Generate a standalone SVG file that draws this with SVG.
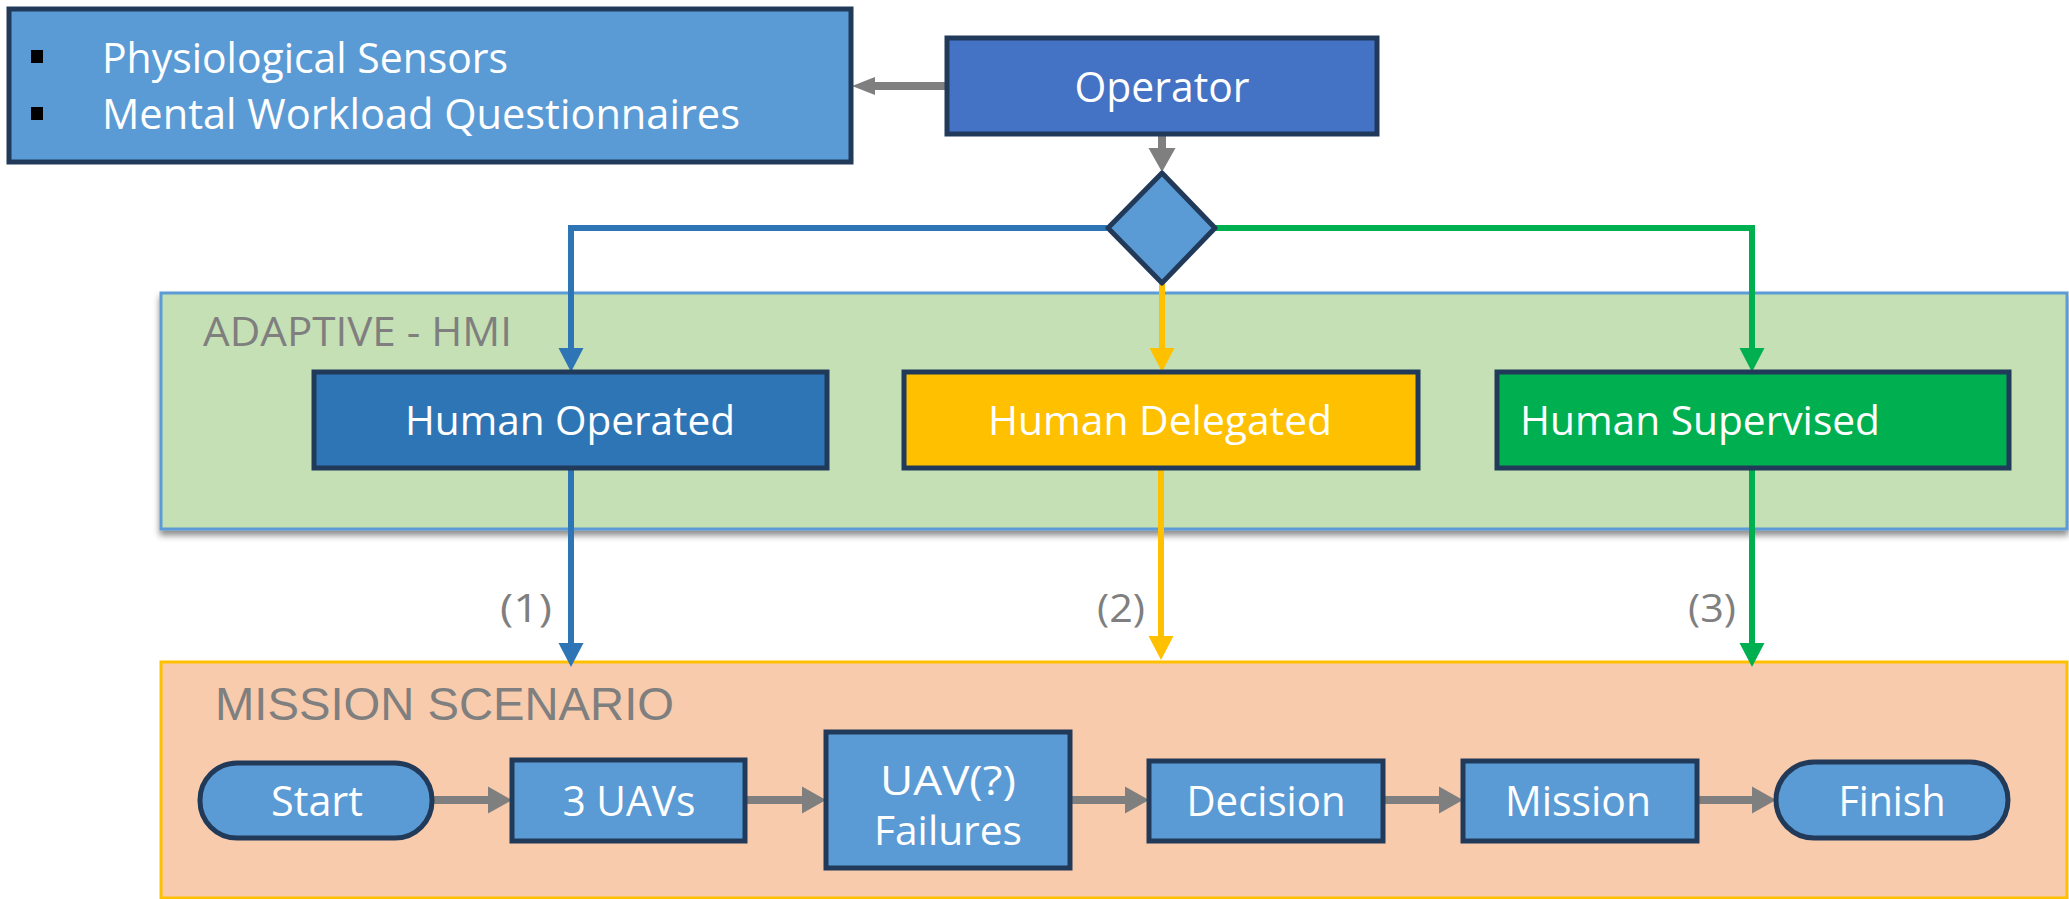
<svg xmlns="http://www.w3.org/2000/svg" width="2069" height="899" viewBox="0 0 2069 899">
<style>
.node{stroke:#213A5A;stroke-width:5}
.lt{font-family:"Open Sans","Noto Sans",sans-serif;fill:#ffffff}
.gl{font-family:"Open Sans","Noto Sans",sans-serif;fill:#7F7F7F}
.c{text-anchor:middle}
.conn{fill:none}
</style>
<defs>
<filter id="sh" x="-5%" y="-5%" width="110%" height="120%">
<feDropShadow dx="0" dy="5" stdDeviation="3" flood-color="#000" flood-opacity="0.45"/>
</filter>
<marker id="ag" markerUnits="userSpaceOnUse" markerWidth="24" markerHeight="27" refX="0" refY="13.5" orient="auto" overflow="visible"><path d="M0,0 L24,13.5 L0,27 z" fill="#7F7F7F"/></marker>
<marker id="ags" markerUnits="userSpaceOnUse" markerWidth="23" markerHeight="18" refX="0" refY="9" orient="auto" overflow="visible"><path d="M0,0 L23,9 L0,18 z" fill="#7F7F7F"/></marker>
<marker id="ab" markerUnits="userSpaceOnUse" markerWidth="24" markerHeight="25" refX="0" refY="12.5" orient="auto" overflow="visible"><path d="M0,0 L24,12.5 L0,25 z" fill="#2E75B6"/></marker>
<marker id="ay" markerUnits="userSpaceOnUse" markerWidth="24" markerHeight="25" refX="0" refY="12.5" orient="auto" overflow="visible"><path d="M0,0 L24,12.5 L0,25 z" fill="#FFC000"/></marker>
<marker id="agr" markerUnits="userSpaceOnUse" markerWidth="24" markerHeight="25" refX="0" refY="12.5" orient="auto" overflow="visible"><path d="M0,0 L24,12.5 L0,25 z" fill="#00B050"/></marker>
</defs>
<rect width="2069" height="899" fill="#ffffff"/>

<g id="adaptive-hmi">
<rect x="161" y="293" width="1906" height="236" fill="#C5E0B4" stroke="#5B9BD5" stroke-width="3" filter="url(#sh)"/>
<text class="gl" x="203" y="346" font-size="40" textLength="309" lengthAdjust="spacingAndGlyphs">ADAPTIVE - HMI</text>
</g>

<g id="mission-scenario">
<rect x="161" y="662" width="1906" height="236" fill="#F8CBAD" stroke="#FFC000" stroke-width="3"/>
<text x="215" y="720" font-family="Liberation Sans, Arial, sans-serif" fill="#7F7F7F" font-size="46" textLength="459" lengthAdjust="spacingAndGlyphs">MISSION SCENARIO</text>
</g>

<g id="connectors">
<path class="conn" d="M947,86 H875" stroke="#7F7F7F" stroke-width="8" marker-end="url(#ags)"/>
<path class="conn" d="M1162,134 V148" stroke="#7F7F7F" stroke-width="8" marker-end="url(#ag)"/>
<path class="conn" d="M1107,228 H571 V348" stroke="#2E75B6" stroke-width="6" marker-end="url(#ab)"/>
<path class="conn" d="M1162,283 V348" stroke="#FFC000" stroke-width="6" marker-end="url(#ay)"/>
<path class="conn" d="M1215,228 H1752 V348" stroke="#00B050" stroke-width="6" marker-end="url(#agr)"/>
<path class="conn" d="M571,468 V643" stroke="#2E75B6" stroke-width="6" marker-end="url(#ab)"/>
<path class="conn" d="M1161,468 V636" stroke="#FFC000" stroke-width="6" marker-end="url(#ay)"/>
<path class="conn" d="M1752,468 V643" stroke="#00B050" stroke-width="6" marker-end="url(#agr)"/>
<path class="conn" d="M432,800 H488" stroke="#7F7F7F" stroke-width="8" marker-end="url(#ag)"/>
<path class="conn" d="M745,800 H802" stroke="#7F7F7F" stroke-width="8" marker-end="url(#ag)"/>
<path class="conn" d="M1070,800 H1125" stroke="#7F7F7F" stroke-width="8" marker-end="url(#ag)"/>
<path class="conn" d="M1383,800 H1439" stroke="#7F7F7F" stroke-width="8" marker-end="url(#ag)"/>
<path class="conn" d="M1697,800 H1752" stroke="#7F7F7F" stroke-width="8" marker-end="url(#ag)"/>
<text class="gl" x="500" y="622" font-size="39" textLength="52" lengthAdjust="spacingAndGlyphs">(1)</text>
<text class="gl" x="1097" y="622" font-size="39" textLength="48" lengthAdjust="spacingAndGlyphs">(2)</text>
<text class="gl" x="1688" y="622" font-size="39" textLength="48" lengthAdjust="spacingAndGlyphs">(3)</text>
</g>

<g id="sensors">
<rect class="node" x="9" y="9" width="842" height="153" fill="#5B9BD5"/>
<rect x="31" y="50" width="12" height="13" fill="#000"/>
<rect x="31" y="107" width="12" height="13" fill="#000"/>
<text class="lt" x="102" y="73" font-size="42" textLength="406" lengthAdjust="spacingAndGlyphs">Physiological Sensors</text>
<text class="lt" x="102" y="129" font-size="42" textLength="638" lengthAdjust="spacingAndGlyphs">Mental Workload Questionnaires</text>
</g>

<g id="operator">
<rect class="node" x="947" y="38" width="430" height="96" fill="#4472C4"/>
<text class="lt c" x="1162" y="102" font-size="42" textLength="175" lengthAdjust="spacingAndGlyphs">Operator</text>
</g>

<g id="decision-diamond">
<polygon class="node" points="1162,173 1215,228 1162,283 1108,228" fill="#5B9BD5" stroke-linejoin="round"/>
</g>

<g id="human-operated">
<rect class="node" x="314" y="372" width="513" height="96" fill="#2E75B6"/>
<text class="lt c" x="570" y="435" font-size="40" textLength="330" lengthAdjust="spacingAndGlyphs">Human Operated</text>
</g>

<g id="human-delegated">
<rect class="node" x="904" y="372" width="514" height="96" fill="#FFC000"/>
<text class="lt c" x="1160" y="435" font-size="40" textLength="344" lengthAdjust="spacingAndGlyphs">Human Delegated</text>
</g>

<g id="human-supervised">
<rect class="node" x="1497" y="372" width="512" height="96" fill="#00B050"/>
<text class="lt" x="1520" y="435" font-size="40" textLength="360" lengthAdjust="spacingAndGlyphs">Human Supervised</text>
</g>

<g id="start">
<rect class="node" x="200" y="763" width="232" height="75" rx="37" ry="37" fill="#5B9BD5"/>
<text class="lt c" x="317" y="816" font-size="42" textLength="92" lengthAdjust="spacingAndGlyphs">Start</text>
</g>

<g id="uavs">
<rect class="node" x="512" y="760" width="233" height="81" fill="#5B9BD5"/>
<text class="lt c" x="629" y="816" font-size="42" textLength="133" lengthAdjust="spacingAndGlyphs">3 UAVs</text>
</g>

<g id="failures">
<rect class="node" x="826" y="732" width="244" height="136" fill="#5B9BD5"/>
<text class="lt c" font-size="40"><tspan x="948" y="795" textLength="136" lengthAdjust="spacingAndGlyphs">UAV(?)</tspan><tspan x="948" y="845" textLength="148" lengthAdjust="spacingAndGlyphs">Failures</tspan></text>
</g>

<g id="decision">
<rect class="node" x="1149" y="761" width="234" height="80" fill="#5B9BD5"/>
<text class="lt c" x="1266" y="816" font-size="42" textLength="159" lengthAdjust="spacingAndGlyphs">Decision</text>
</g>

<g id="mission">
<rect class="node" x="1463" y="761" width="234" height="80" fill="#5B9BD5"/>
<text class="lt c" x="1578" y="816" font-size="42" textLength="146" lengthAdjust="spacingAndGlyphs">Mission</text>
</g>

<g id="finish">
<rect class="node" x="1776" y="762" width="232" height="76" rx="38" ry="38" fill="#5B9BD5"/>
<text class="lt c" x="1892" y="816" font-size="42" textLength="107" lengthAdjust="spacingAndGlyphs">Finish</text>
</g>
</svg>
